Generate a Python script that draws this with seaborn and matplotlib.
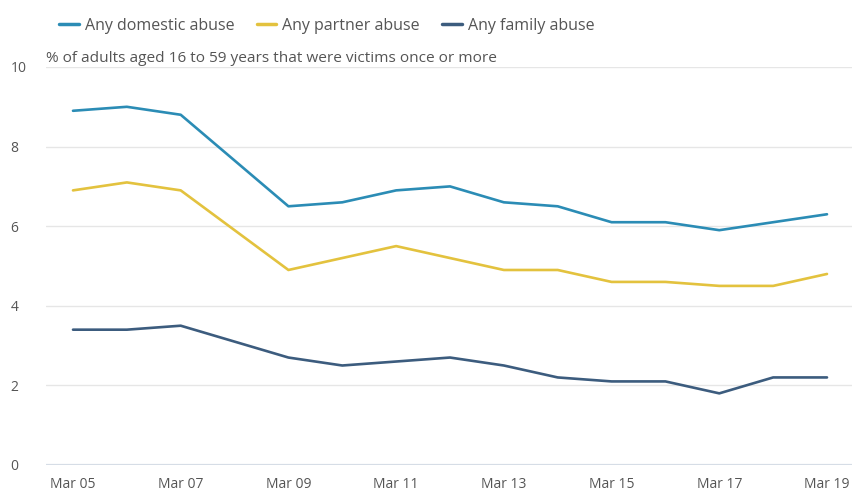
import matplotlib
matplotlib.use("Agg")
import matplotlib.pyplot as plt
import seaborn as sns
import pandas as pd
from matplotlib.lines import Line2D

years = [2005, 2006, 2007, 2009, 2010, 2011, 2012, 2013, 2014, 2015, 2016, 2017, 2018, 2019]
domestic = [8.9, 9.0, 8.8, 6.5, 6.6, 6.9, 7.0, 6.6, 6.5, 6.1, 6.1, 5.9, 6.1, 6.3]
partner = [6.9, 7.1, 6.9, 4.9, 5.2, 5.5, 5.2, 4.9, 4.9, 4.6, 4.6, 4.5, 4.5, 4.8]
family = [3.4, 3.4, 3.5, 2.7, 2.5, 2.6, 2.7, 2.5, 2.2, 2.1, 2.1, 1.8, 2.2, 2.2]
series_names = ["Any domestic abuse", "Any partner abuse", "Any family abuse"]
tick_years = [2005, 2007, 2009, 2011, 2013, 2015, 2017, 2019]
tick_labels = ["Mar 05", "Mar 07", "Mar 09", "Mar 11", "Mar 13", "Mar 15", "Mar 17", "Mar 19"]
subtitle = "% of adults aged 16 to 59 years that were victims once or more"

df = pd.concat([
    pd.DataFrame({"year": years, "value": vals, "series": name})
    for name, vals in zip(series_names, [domestic, partner, family])
])

sns.set_theme(style="white")
plt.rcParams['font.family'] = ['Open Sans', 'DejaVu Sans']

fig = plt.figure(figsize=(8.52, 4.92), dpi=100)
left_px = 46
ax = fig.add_axes([left_px/852, 27/492, 1 - left_px/852, (465-67)/492])

palette = {"Any domestic abuse": "#2b8cb5", "Any partner abuse": "#e3c23e", "Any family abuse": "#3c5c7e"}
sns.lineplot(data=df, x="year", y="value", hue="series", palette=palette, ax=ax,
             linewidth=1.9, legend=False)

ppy = 754 / 14
ax.set_xlim(2005 - (73 - left_px)/ppy, 2019 + 25/ppy)
ax.set_ylim(0, 10)
ax.set_yticks([0, 2, 4, 6, 8, 10])
ax.set_xticks(tick_years)
ax.set_xticklabels(tick_labels)
ax.set_xlabel("")
ax.set_ylabel("")
for s in ax.spines.values():
    s.set_visible(False)
ax.grid(axis="y", color="#e6e6e6", linewidth=1)
ax.axhline(0, color="#d6dde6", linewidth=1.6, zorder=1)
ax.tick_params(axis="y", length=0, pad=25.5, labelsize=10, labelcolor="#555555")
ax.tick_params(axis="x", length=5, width=0.8, color="#c9d6e3", pad=4, labelsize=10, labelcolor="#555555")
for lab in ax.get_yticklabels():
    lab.set_horizontalalignment("left")

fig.text(46/852, 1 - 58/492, subtitle, fontsize=11.1, color="#555555", va="center", ha="left")

handles = [Line2D([0], [0], color=palette[n], linewidth=2.5) for n in series_names]
fig.legend(handles, series_names, loc="center left", bbox_to_anchor=(45/852, 1 - 26/492),
           ncol=3, frameon=False, fontsize=11.5, handlelength=1.2, handletextpad=0.4,
           columnspacing=1.4, labelcolor="#555555")

fig.savefig("out.png", dpi=100)
